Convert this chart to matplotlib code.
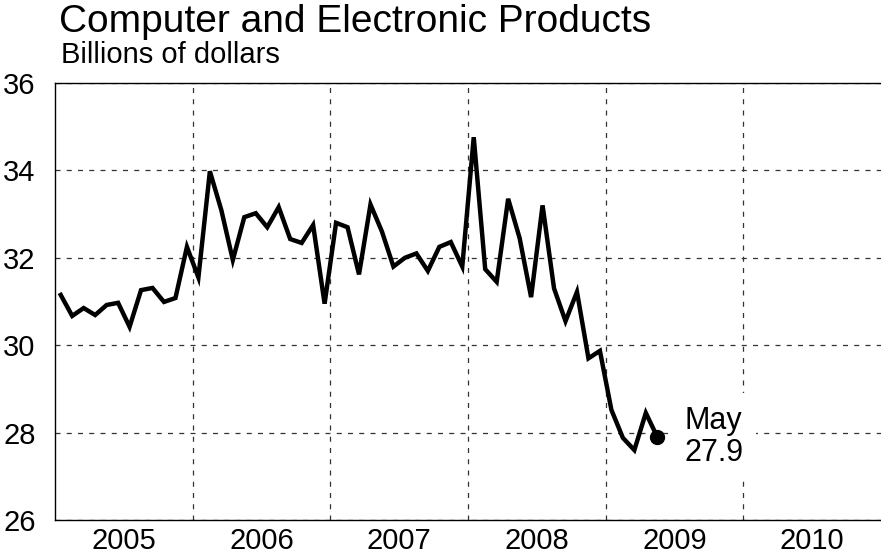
import matplotlib
matplotlib.use("Agg")
import matplotlib.pyplot as plt
import numpy as np

plt.rcParams['font.family'] = ['Liberation Sans', 'DejaVu Sans']

# monthly values, Jan 2005 .. May 2009, billions of dollars
values = [
    31.15, 30.67, 30.85, 30.69, 30.92, 30.97, 30.42, 31.26, 31.31, 30.99, 31.08, 32.25,
    31.55, 33.98, 33.09, 31.95, 32.93, 33.02, 32.70, 33.16, 32.43, 32.34, 32.75, 30.95,
    32.80, 32.70, 31.62, 33.22, 32.60, 31.80, 32.00, 32.10, 31.70, 32.25, 32.36, 31.80,
    34.76, 31.74, 31.45, 33.35, 32.45, 31.10, 33.20, 31.30, 30.55, 31.22, 29.70, 29.87,
    28.52, 27.88, 27.60, 28.45, 27.90,
]
start_year = 2005
years = [2005, 2006, 2007, 2008, 2009, 2010]
y_ticks = [26, 28, 30, 32, 34, 36]
last_label = "May\n27.9"

x = start_year + (np.arange(len(values)) + 0.5) / 12.0

fig = plt.figure(figsize=(8.81, 5.55), dpi=100)
ax = fig.add_axes([55 / 881, 35 / 555, 826 / 881, 437 / 555])

ax.plot(x, values, color='black', lw=3.2, solid_joinstyle='miter', zorder=3)
ax.plot(x[-1], values[-1], 'o', color='black', ms=10, zorder=4)

ax.text(x[-1] + 0.2, values[-1], last_label, fontsize=22, va='center', ha='left',
        linespacing=1.12, zorder=5,
        bbox=dict(boxstyle='square,pad=0.4', fc='white', ec='none'))

ax.set_xlim(years[0], years[-1] + 1)
ax.set_ylim(y_ticks[0], y_ticks[-1])

# year labels in the middle of each year, grid at year boundaries
ax.set_xticks([yr + 0.5 for yr in years])
ax.set_xticklabels([str(yr) for yr in years])
ax.set_xticks([yr for yr in years[1:]], minor=True)
ax.set_yticks(y_ticks)

ax.tick_params(axis='both', which='both', length=0, labelsize=21)
ax.tick_params(axis='y', pad=14)
ax.tick_params(axis='x', pad=5)

ax.grid(True, which='minor', axis='x', color='#333333', lw=0.9, ls=(0, (4, 5)))
ax.grid(True, which='major', axis='y', color='#333333', lw=0.9, ls=(0, (4, 5)))
ax.set_axisbelow(True)

ax.spines['right'].set_visible(False)
for s in ['left', 'top', 'bottom']:
    ax.spines[s].set_linewidth(1.0)
    ax.spines[s].set_color('black')

fig.text(59 / 881, 1 - 32 / 555, "Computer and Electronic Products", fontsize=28,
         ha='left', va='baseline')
fig.text(61 / 881, 1 - 63 / 555, "Billions of dollars", fontsize=21,
         ha='left', va='baseline')

fig.savefig("out.png", dpi=100)
